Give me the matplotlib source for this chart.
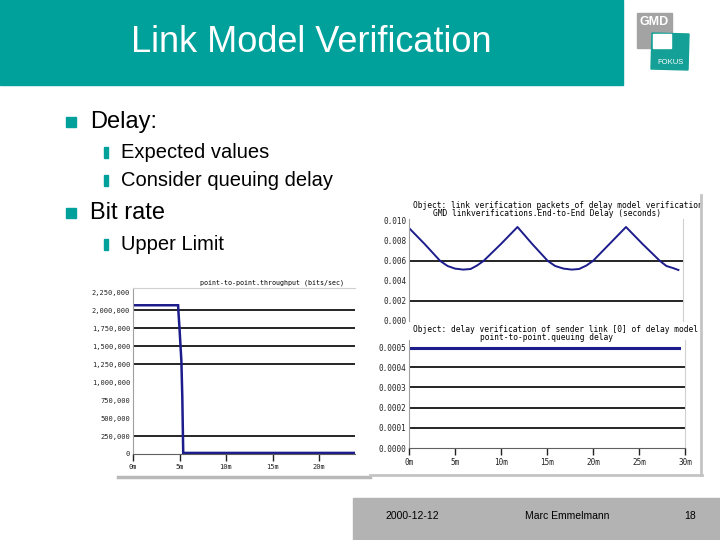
import matplotlib
matplotlib.use("Agg")
from matplotlib import pyplot as plt
from matplotlib.patches import Rectangle, Polygon

W, H = 720, 540
TEAL = "#00a19b"
NAVY = "#1c1c8c"
MONO = "DejaVu Sans Mono"
SANS = "Liberation Sans"

# slide text
title = "Link Model Verification"
bullets = [("Delay:", 1, 122), ("Expected values", 2, 152), ("Consider queuing delay", 2, 180),
           ("Bit rate", 1, 213), ("Upper Limit", 2, 244)]
footer = ["2000-12-12", "Marc Emmelmann", "18"]

# bit rate chart: minutes vs bits/sec
rate_t = [0, 4.85, 4.9, 5.0, 5.1, 5.2, 5.3, 5.4, 23.8]
rate_v = [2070000, 2070000, 1950000, 1750000, 1520000, 1300000, 800000, 15000, 15000]
rate_ticks = [0, 250000, 500000, 750000, 1000000, 1250000, 1500000, 1750000, 2000000, 2250000]
rate_labels = ["0", "250,000", "500,000", "750,000", "1,000,000", "1,250,000",
               "1,500,000", "1,750,000", "2,000,000", "2,250,000"]
rate_grid = [250000, 1250000, 1500000, 1750000, 2000000]
rate_xticks = [0, 5, 10, 15, 20]

# end-to-end delay chart: minutes vs seconds
delay_t = [0.0, 1.7, 3.4, 4.2, 5.0, 5.9, 6.7, 7.4, 8.1, 10.0, 11.8, 13.4, 15.1, 15.9, 16.8,
           17.7, 18.5, 19.3, 20.0, 21.8, 23.6, 25.4, 27.3, 28.0, 28.7, 29.3]
delay_v = [0.0093, 0.0077, 0.0060, 0.0055, 0.00524, 0.00514, 0.0052, 0.00555, 0.0060, 0.0077,
           0.0094, 0.0077, 0.0060, 0.0055, 0.00524, 0.00514, 0.0052, 0.00555, 0.0060, 0.0077,
           0.0094, 0.0077, 0.0060, 0.0055, 0.0053, 0.0051]
delay_ticks = [0, 0.002, 0.004, 0.006, 0.008, 0.010]
delay_grid = [0.002, 0.006]

# queuing delay chart
queue_t = [0, 29.3]
queue_v = [0.000497, 0.000497]
queue_ticks = [0, 0.0001, 0.0002, 0.0003, 0.0004, 0.0005]
queue_grid = [0.0001, 0.0002, 0.0003, 0.0004]
time_ticks = [0, 5, 10, 15, 20, 25, 30]

fig = plt.figure(figsize=(7.2, 5.4), dpi=100)


def px_axes(x0, y0, x1, y1, z):
    ax = fig.add_axes([x0 / W, 1 - y1 / H, (x1 - x0) / W, (y1 - y0) / H])
    ax.set_zorder(z)
    return ax


def pixel_frame(x0, y0, x1, y1, z):
    ax = px_axes(x0, y0, x1, y1, z)
    ax.set_xlim(x0, x1)
    ax.set_ylim(y1, y0)
    ax.axis("off")
    return ax


def style_chart(ax, xticks, xlabels, yticks, ylabels, fs=5.2):
    ax.set_yticks(yticks)
    ax.set_yticklabels(ylabels)
    ax.set_xticks(xticks)
    ax.set_xticklabels(xlabels)
    ax.tick_params(axis="y", length=0, pad=2, labelsize=fs, colors="#222222")
    ax.tick_params(axis="x", length=5, direction="out", width=1, pad=2,
                   labelsize=fs, colors="#222222")
    for side in ["top", "right"]:
        ax.spines[side].set_color("#d0d0d0")
        ax.spines[side].set_linewidth(0.8)
    ax.spines["left"].set_color("#a0a0a0")
    ax.spines["bottom"].set_color("#606060")
    ax.patch.set_alpha(0)
    for lab in ax.get_xticklabels() + ax.get_yticklabels():
        lab.set_family(MONO)


# slide background
bg = pixel_frame(0, 0, W, H, 0)
bg.add_patch(Rectangle((0, 0), 623, 85, color=TEAL))
bg.text(311, 43, title, color="white", fontsize=26, ha="center", va="center", family=SANS)

# logo
bg.add_patch(Rectangle((637, 13), 35, 35, color="#a3a3a3"))
bg.add_patch(Polygon([[652, 33], [689, 34], [688, 70], [651, 69]], color="#14a096"))
bg.add_patch(Rectangle((653, 34), 18, 14, color="white"))
bg.text(654.5, 22, "GMD", color="white", fontsize=9, ha="center", va="center",
        family=SANS, weight="bold")
bg.text(671, 62, "FOKUS", color="white", fontsize=5.5, ha="center", va="center", family=SANS)

# bullets
for txt, lvl, y in bullets:
    if lvl == 1:
        bg.add_patch(Rectangle((66, y - 5), 10, 10, color=TEAL))
        bg.text(90, y, txt, fontsize=17, va="center", family=SANS)
    else:
        bg.add_patch(Rectangle((104, y - 5), 4, 11, color=TEAL))
        bg.text(121, y, txt, fontsize=14.5, va="center", family=SANS)

# footer
bg.add_patch(Rectangle((353, 498), 367, 42, color="#b3b3b3"))
for txt, x in zip(footer, [412, 567, 690]):
    bg.text(x, 516, txt, fontsize=7.5, ha="center", va="center", family=SANS)

# left chart: throughput
bg.text(272, 283, "point-to-point.throughput (bits/sec)", fontsize=4.8, ha="center",
        va="center", family=MONO)
ax1 = px_axes(133, 288, 355, 454, 1)
ax1.set_xlim(0, 23.87)
ax1.set_ylim(0, 2310000)
for g in rate_grid:
    ax1.axhline(g, color="black", lw=1.2)
ax1.plot(rate_t, rate_v, color=NAVY, lw=1.8, solid_joinstyle="miter")
style_chart(ax1, rate_xticks, [f"{t}m" for t in rate_xticks], rate_ticks, rate_labels, fs=5)
ax1.spines["right"].set_visible(False)
bg.plot([118, 370], [477, 477], color="#b8b8b8", lw=2.5)

# right top frame and chart: end-to-end delay
f2 = pixel_frame(370, 190, 702, 325, 2)
f2.text(413, 205.5, "Object: link verification packets of delay model verification",
        fontsize=5.7, family=MONO, va="center", clip_on=True)
f2.text(547, 214, "GMD linkverifications.End-to-End Delay (seconds)",
        fontsize=5.7, family=MONO, va="center", ha="center")
ax2 = px_axes(409, 219, 683, 321, 3)
ax2.set_xlim(0, 29.8)
ax2.set_ylim(0, 0.0102)
for g in delay_grid:
    ax2.axhline(g, color="black", lw=1.2)
ax2.plot(delay_t, delay_v, color=NAVY, lw=1.4)
style_chart(ax2, [], [], delay_ticks, [f"{v:.3f}" for v in delay_ticks], fs=5.5)
ax2.spines["bottom"].set_visible(False)
ax2.spines["top"].set_visible(False)

# right bottom frame and chart: queuing delay
f3 = pixel_frame(370, 325, 702, 476, 4)
f3.add_patch(Rectangle((370, 325), 332, 151, color="white"))
f3.text(413, 329, "Object: delay verification of sender link [0] of delay model",
        fontsize=5.7, family=MONO, va="center", clip_on=True)
f3.text(546, 337.5, "point-to-point.queuing delay",
        fontsize=5.7, family=MONO, va="center", ha="center")
ax3 = px_axes(409, 340, 685, 448, 5)
ax3.set_xlim(0, 30)
ax3.set_ylim(0, 0.000535)
for g in queue_grid:
    ax3.axhline(g, color="black", lw=1.2)
ax3.plot(queue_t, queue_v, color=NAVY, lw=2.2)
style_chart(ax3, time_ticks, [f"{t}m" for t in time_ticks], queue_ticks,
            [f"{v:.4f}" for v in queue_ticks], fs=5.5)
ax3.spines["top"].set_visible(False)

# gray frame edges of the right pictures
top = pixel_frame(0, 0, W, H, 10)
top.plot([701, 701], [195, 475], color="#c4c4c4", lw=2)
top.plot([370, 702], [475, 475], color="#c4c4c4", lw=2)

fig.savefig("out.png", dpi=100)
